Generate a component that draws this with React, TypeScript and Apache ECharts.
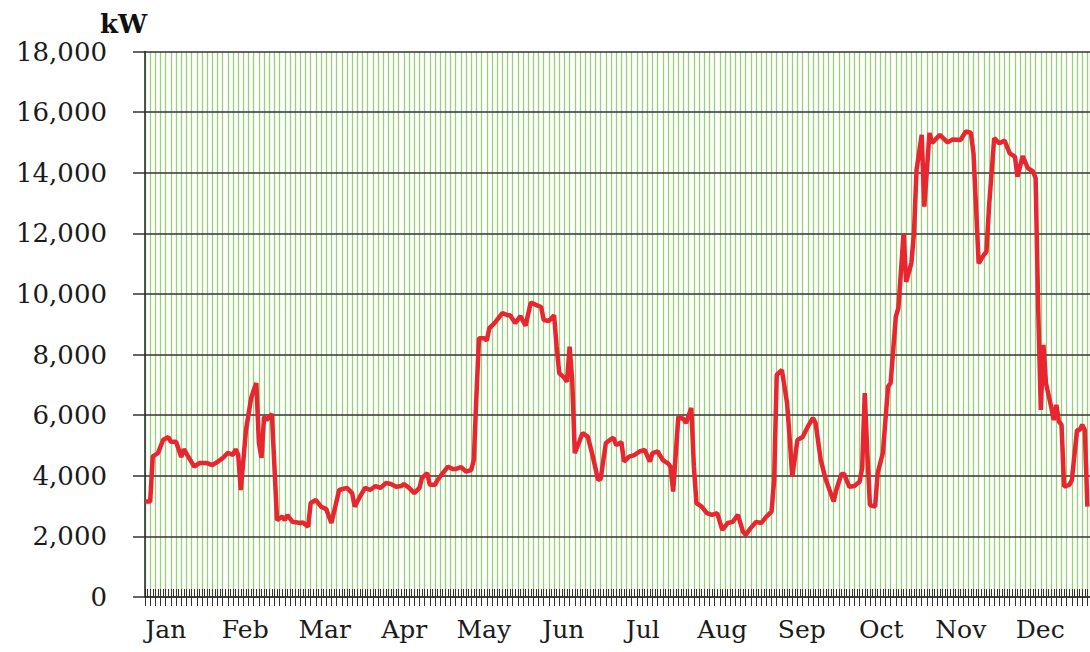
import { useEffect, useRef } from "react";
import * as echarts from "echarts";

const months = ["Jan", "Feb", "Mar", "Apr", "May", "Jun", "Jul", "Aug", "Sep", "Oct", "Nov", "Dec"];

// day of year (0 = Jan 1)
const days = [
  0, 2, 3, 5, 7, 9, 10, 12, 14, 15,
  17, 19, 21, 24, 26, 28, 30, 32, 34, 35,
  36, 37, 39, 41, 42, 43, 44, 45, 46, 47,
  49, 51, 53, 54, 55, 57, 60, 61, 63, 64,
  66, 68, 70, 72, 75, 78, 80, 81, 83, 85,
  87, 89, 91, 93, 95, 97, 99, 100, 102, 104,
  106, 107, 109, 110, 112, 113, 115, 117, 119, 120,
  122, 124, 126, 127, 128, 129, 131, 132, 133, 135,
  138, 140, 141, 143, 145, 147, 149, 151, 153, 154,
  156, 158, 159, 160, 162, 163, 164, 165, 166, 168,
  169, 171, 173, 175, 176, 178, 180, 181, 182, 184,
  185, 187, 189, 191, 193, 195, 196, 198, 200, 202,
  203, 204, 206, 208, 209, 211, 212, 213, 215, 217,
  219, 221, 223, 225, 227, 229, 231, 232, 234, 236,
  238, 240, 242, 243, 244, 246, 248, 249, 250, 252,
  254, 256, 258, 259, 261, 263, 266, 267, 269, 270,
  272, 274, 276, 277, 278, 279, 280, 282, 283, 285,
  287, 288, 290, 291, 293, 294, 296, 297, 298, 300,
  301, 303, 304, 307, 310, 312, 315, 317, 319, 320,
  322, 324, 325, 326, 328, 330, 332, 334, 336, 337,
  339, 341, 343, 344, 345, 346, 347, 348, 350, 351,
  352, 353, 354, 355, 357, 358, 360, 361, 362, 363,
  364,
];

// power, kW
const kw = [
  3150, 3150, 4640, 4750, 5180, 5280, 5120, 5120, 4620, 4880,
  4590, 4300, 4420, 4420, 4350, 4460, 4580, 4760, 4690, 4880,
  4690, 3530, 5510, 6560, 6830, 7060, 5080, 4590, 5950, 5840,
  6040, 2540, 2650, 2540, 2700, 2480, 2440, 2460, 2320, 3100,
  3200, 2980, 2900, 2440, 3530, 3600, 3430, 2980, 3310, 3600,
  3530, 3660, 3600, 3760, 3730, 3640, 3660, 3730, 3600, 3430,
  3600, 3930, 4090, 3700, 3700, 3860, 4090, 4300, 4220, 4220,
  4290, 4140, 4190, 4520, 6610, 8540, 8540, 8460, 8870, 9040,
  9370, 9300, 9300, 9040, 9270, 8950, 9720, 9640, 9570, 9140,
  9110, 9300, 8260, 7390, 7230, 7100, 8260, 7160, 4750, 5180,
  5410, 5290, 4630, 3860, 3900, 5080, 5210, 5250, 5010, 5110,
  4470, 4630, 4680, 4800, 4850, 4470, 4750, 4800, 4520, 4410,
  4300, 3480, 5950, 5870, 5740, 6240, 4300, 3100, 2980, 2770,
  2710, 2770, 2210, 2440, 2480, 2710, 2150, 2050, 2280, 2480,
  2440, 2650, 2820, 3860, 7330, 7490, 6400, 5250, 3970, 5180,
  5280, 5620, 5910, 5740, 4520, 3860, 3150, 3530, 4060, 4060,
  3640, 3660, 3800, 4250, 6730, 4750, 3030, 2980, 4090, 4750,
  6940, 7060, 9250, 9540, 12000, 10400, 11020, 12000, 14090, 15250,
  12880, 15310, 14980, 15250, 15000, 15100, 15080, 15360, 15320, 14640,
  11010, 11290, 11390, 12880, 15140, 14970, 15060, 14640, 14530, 13870,
  14550, 14150, 14040, 13820, 9470, 6170, 8320, 7050, 6280, 5840,
  6340, 5790, 5680, 3640, 3700, 3860, 5510, 5510, 5680, 5510,
  2980,
];

const yMax = 18000;
const yStep = 2000;
const dayMax = 365;

const SERIF = "'DejaVu Serif', serif";

export default function App() {
  const ref = useRef<HTMLDivElement>(null);

  useEffect(() => {
    const chart = echarts.init(ref.current!, null, { renderer: "svg" });
    chart.setOption({
      animation: false,
      backgroundColor: "#ffffff",
      title: {
        text: "kW",
        left: 95,
        top: 6,
        textStyle: { fontFamily: SERIF, fontWeight: "bold", fontSize: 26, color: "#111" },
      },
      grid: [
        { left: 145, right: 0, top: 51.5, bottom: 55 },
        { left: 126, right: 10, top: 51.5, bottom: 55 },
      ],
      xAxis: [
        {
          type: "value",
          gridIndex: 0,
          position: "bottom",
          min: 0,
          max: dayMax,
          interval: 2,
          axisLine: { show: true, onZero: false, lineStyle: { color: "#222", width: 1.5 } },
          axisTick: { show: true, length: 9, lineStyle: { color: "#333", width: 1 } },
          axisLabel: { show: false },
          splitLine: { show: true, lineStyle: { color: "#96d274", width: 1.3 } },
          z: 0,
        },
        {
          type: "value",
          gridIndex: 0,
          position: "bottom",
          min: 0,
          max: dayMax,
          interval: 1,
          axisLine: { show: false, onZero: false },
          axisTick: { show: true, inside: true, length: 8, lineStyle: { color: "#333", width: 1 } },
          axisLabel: { show: false },
          splitLine: { show: false },
          z: 1,
        },
        {
          type: "category",
          gridIndex: 1,
          position: "bottom",
          data: months,
          boundaryGap: true,
          axisLine: { show: false },
          axisTick: { show: false },
          axisLabel: { fontFamily: SERIF, fontSize: 25, color: "#1a1a1a", margin: 20, interval: 0 },
          splitLine: { show: false },
        },
      ],
      yAxis: [
        {
          type: "value",
          gridIndex: 0,
          min: 0,
          max: yMax,
          interval: yStep,
          axisLine: { show: true, lineStyle: { color: "#222", width: 1.5 } },
          axisTick: { show: true, length: 12, lineStyle: { color: "#333", width: 1.5 } },
          axisLabel: {
            fontFamily: SERIF,
            fontSize: 26,
            color: "#1a1a1a",
            margin: 38,
            formatter: (v: number) => v.toLocaleString("en-US"),
          },
          splitLine: { show: true, lineStyle: { color: "#333", width: 1.6 } },
          z: 2,
        },
        { type: "value", gridIndex: 1, show: false },
      ],
      series: [
        {
          type: "line",
          xAxisIndex: 0,
          yAxisIndex: 0,
          data: days.map((d, i) => [d, kw[i]]),
          symbol: "none",
          lineStyle: { color: "#e8262f", width: 4.5 },
          z: 5,
        },
      ],
    });
    return () => chart.dispose();
  }, []);

  return (
    <div style={{ position: "absolute", left: 0, top: 0, width: 1090, height: 652, overflow: "hidden" }}>
      <div ref={ref} style={{ width: 1090, height: 652 }} />
    </div>
  );
}
